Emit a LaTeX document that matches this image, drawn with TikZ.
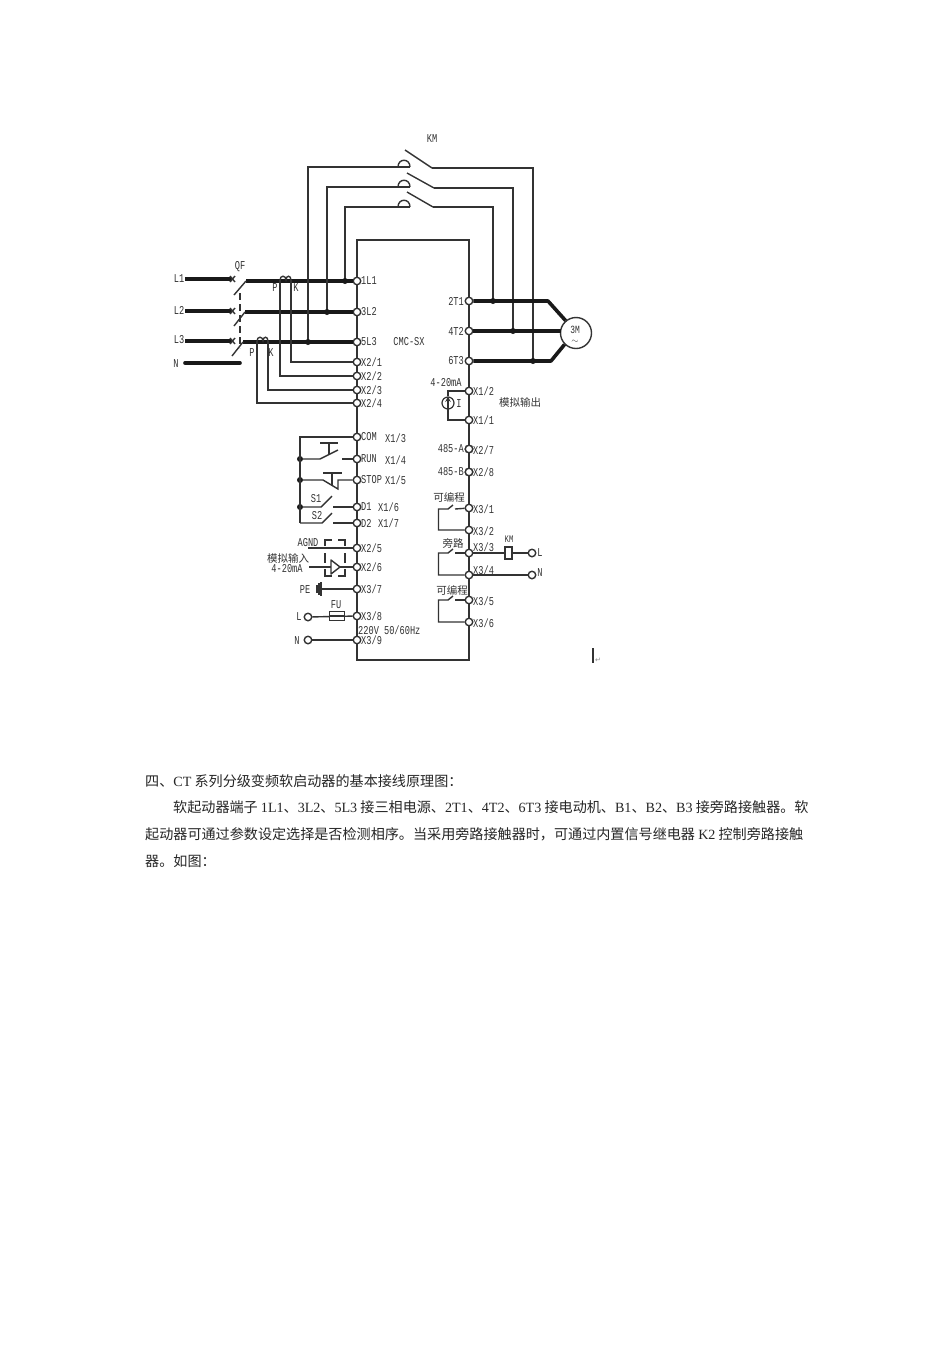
\documentclass[tikz,border=0pt]{standalone}
\usepackage{fontspec}
\setmainfont{Liberation Serif}
\newfontfamily\cjk{Noto Sans CJK SC}
\newfontfamily\djv{DejaVu Sans}
\newfontfamily\lbfont[FakeStretch=0.72]{Liberation Mono}
\newcommand\lat[1]{{\rmfamily #1}}
\definecolor{ink}{HTML}{333333}
\tikzset{
  wire/.style={draw=ink,line width=1.4pt},
  heavy/.style={draw=black!90,line width=3.6pt},
  term/.style={circle,draw=ink,fill=white,line width=1.4pt,minimum size=7.5pt,inner sep=0pt},
  lb/.style={inner sep=0pt,text=ink,font=\lbfont\fontsize{12}{12}\selectfont},
  cn/.style={inner sep=0pt,text=ink,font=\cjk\fontsize{10.5}{11}\selectfont},
  body/.style={inner sep=0pt,anchor=west,text=black!85,font=\cjk\fontsize{14.1}{15}\selectfont},
  dot/.style={circle,fill=black!90,minimum size=6pt,inner sep=0pt},
}
\begin{document}
\begin{tikzpicture}[x=1pt,y=-1pt]
\useasboundingbox[fill=white] (0,0) rectangle (950,1345);
% body of the starter
\node[wire,rectangle,minimum width=112pt,minimum height=420pt,inner sep=0pt] (box) at (413,450) {};
\node[lb] (cmc) at (409,342) {CMC-SX};
% left terminals
\foreach \n/\y/\t in {a1L1/281/1L1,a3L2/312/3L2,a5L3/342/5L3,aX21/362/X2\slash 1,aX22/376/X2\slash 2,aX23/390/X2\slash 3,aX24/403/X2\slash 4,aCOM/437/COM,aRUN/459/RUN,aSTOP/480/STOP,aD1/507/D1,aD2/523/D2,aX25/548/X2\slash 5,aX26/567/X2\slash 6,aX37/589/X3\slash 7,aX38/616/X3\slash 8,aX39/640/X3\slash 9}{
  \node[term] (\n) at (357,\y) {};
  \node[lb,anchor=west] (l\n) at (361,\y) {\t};
}
\node[lb,anchor=west] (x13) at (385,438) {X1/3};
\node[lb,anchor=west] (x14) at (385,460) {X1/4};
\node[lb,anchor=west] (x15) at (385,480) {X1/5};
\node[lb,anchor=west] (x16) at (378,507) {X1/6};
\node[lb,anchor=west] (x17) at (378,523) {X1/7};
\node[lb,anchor=west] (volt) at (358,630) {220V 50/60Hz};
% right terminals, labels to the left
\foreach \n/\y/\t in {b2T1/301/2T1,b4T2/331/4T2,b6T3/361/6T3,bA/449/485-A,bB/472/485-B}{
  \node[term] (\n) at (469,\y) {};
  \node[lb,anchor=east] (l\n) at (464,\y) {\t};
}
% right terminals, labels to the right
\foreach \n/\y/\t/\ly in {bX12/391/X1\slash 2/391,bX11/420/X1\slash 1/420,bX27/449/X2\slash 7/450,bX28/472/X2\slash 8/472,bX31/508/X3\slash 1/509,bX32/530/X3\slash 2/531,bX33/553/X3\slash 3/547,bX34/575/X3\slash 4/570,bX35/600/X3\slash 5/601,bX36/622/X3\slash 6/623}{
  \node[term] (\n) at (469,\y) {};
  \node[lb,anchor=west] (l\n) at (473,\ly) {\t};
}
% mains
\node[lb] (L1) at (179,279) {L1};
\node[lb] (L2) at (179,310) {L2};
\node[lb] (L3) at (179,340) {L3};
\node[lb] (N) at (176,364) {N};
\node[lb] (QF) at (240,267) {QF};
\coordinate (i1) at (185,279); \coordinate (i1e) at (232,279);
\coordinate (i2) at (185,311); \coordinate (i2e) at (232,311);
\coordinate (i3) at (185,341); \coordinate (i3e) at (232,341);
\coordinate (n1) at (185,363); \coordinate (n2) at (240,363);
\draw[heavy] (i1) -- (i1e); \draw[heavy] (i2) -- (i2e); \draw[heavy] (i3) -- (i3e); \draw[heavy,line cap=round] (n1) -- (n2);
\foreach \p in {279,311,341}{ \draw[wire] (230,\p-3) -- (235,\p+3) (230,\p+3) -- (235,\p-3); }
\coordinate (o1) at (246,281); \coordinate (o2) at (245,312); \coordinate (o3) at (243,342);
\draw[heavy] (o1) -- (a1L1); \draw[heavy] (o2) -- (a3L2); \draw[heavy] (o3) -- (a5L3);
\coordinate (q1) at (234,295); \coordinate (q2) at (234,326); \coordinate (q3) at (232,356);
\draw[wire] (o1) -- (q1); \draw[wire] (o2) -- (q2); \draw[wire] (o3) -- (q3);
\coordinate (qa) at (240,293); \coordinate (qb) at (240,348);
\draw[wire,dash pattern=on 7pt off 4pt] (qa) -- (qb);
% current transformers
\coordinate (c1a) at (280,280); \coordinate (c1m) at (286,280); \coordinate (c1b) at (291,280);
\coordinate (c3a) at (257,341); \coordinate (c3m) at (263,341); \coordinate (c3b) at (268,341);
\draw[wire] (c1a) .. controls +(0,-5) and +(0,-5) .. (c1m) .. controls +(0,-5) and +(0,-5) .. (c1b);
\draw[wire] (c3a) .. controls +(0,-5) and +(0,-5) .. (c3m) .. controls +(0,-5) and +(0,-5) .. (c3b);
\draw[wire] (c1a) |- (aX22); \draw[wire] (c1b) |- (aX21);
\draw[wire] (c3a) |- (aX24); \draw[wire] (c3b) |- (aX23);
\node[lb] (P1) at (275,288) {P}; \node[lb] (K1) at (296,288) {K};
\node[lb] (P3) at (252,353) {P}; \node[lb] (K3) at (271,353) {K};
% bypass contactor
\node[lb] (KM) at (432,139) {KM};
\coordinate (j1) at (345,281); \coordinate (j2) at (327,312); \coordinate (j3) at (308,342);
\coordinate (d1l) at (398,207); \coordinate (d1r) at (410,207);
\coordinate (d2l) at (398,187); \coordinate (d2r) at (410,187);
\coordinate (d3l) at (398,167); \coordinate (d3r) at (410,167);
\draw[wire] (j1) |- (d1r); \draw[wire] (j2) |- (d2r); \draw[wire] (j3) |- (d3r);
\draw[wire] (d1l) .. controls +(0,-9) and +(0,-9) .. (d1r);
\draw[wire] (d2l) .. controls +(0,-9) and +(0,-9) .. (d2r);
\draw[wire] (d3l) .. controls +(0,-9) and +(0,-9) .. (d3r);
\coordinate (k1) at (433,207); \coordinate (k2) at (434,188); \coordinate (k3) at (432,168);
\draw[wire] (k1) -- (407,192); \draw[wire] (k2) -- (407,173); \draw[wire] (k3) -- (405,150);
\coordinate (m1) at (493,301); \coordinate (m2) at (513,331); \coordinate (m3) at (533,361);
\draw[wire] (k1) -| (m1); \draw[wire] (k2) -| (m2); \draw[wire] (k3) -| (m3);
% motor
\node[circle,draw=ink,line width=1.4pt,fill=white,minimum size=31pt,inner sep=0pt] (motor) at (576,333) {};
\node[inner sep=0pt,text=ink,font=\lbfont\fontsize{11}{8}\selectfont] (mt) at (575,330) {3M};
\node[inner sep=0pt,text=ink,font=\rmfamily\fontsize{9}{8}\selectfont] (mw) at (575,342) {$\sim$};
\coordinate (b1) at (548,301); \coordinate (b3) at (551,361); \coordinate (b2) at (561,331);
\draw[heavy,line join=round] (b2T1) -- (b1) -- (motor.130);
\draw[heavy] (b4T2) -- (b2);
\draw[heavy,line join=round] (b6T3) -- (b3) -- (motor.225);
\node[dot] (dj1) at (j1) {}; \node[dot] (dj2) at (j2) {}; \node[dot] (dj3) at (j3) {};
\node[dot] (dm1) at (m1) {}; \node[dot] (dm2) at (m2) {}; \node[dot] (dm3) at (m3) {};
% analog output
\node[lb] (ma) at (446,383) {4-20mA};
\node[cn] (aout) at (520,402) {模拟输出};
\node[circle,draw=ink,line width=1.2pt,minimum size=12pt,inner sep=0pt] (src) at (448,403) {};
\node[lb] (srcI) at (459,404) {I};
\draw[wire] (src) |- (bX12); \draw[wire] (src) |- (bX11);
\draw[wire,-stealth] (src.south) -- (src.north);
% control inputs on the left
\coordinate (railT) at (300,437); \coordinate (railB) at (300,523);
\node[dot] (rRUN) at (300,459) {}; \node[dot] (rSTOP) at (300,480) {}; \node[dot] (rD1) at (300,507) {};
\draw[wire] (aCOM) -- (railT) -- (railB);
% RUN
\coordinate (runA) at (320,459); \coordinate (runB) at (342,459);
\draw[wire] (rRUN) -- (runA) -- (338,450); \draw[wire] (runB) -- (aRUN);
\draw[wire] (320,443) -- (338,443) (329,443) -- (329,455);
% STOP
\coordinate (stA) at (323,480); \coordinate (stB) at (338,480);
\draw[wire] (rSTOP) -- (stA) -- (338,489) -- (stB) -- (aSTOP);
\draw[wire] (323,473) -- (342,473) (332,473) -- (332,485);
% S1, S2
\coordinate (s1A) at (321,507); \coordinate (s1B) at (333,507);
\coordinate (s2A) at (322,523); \coordinate (s2B) at (333,523);
\draw[wire] (rD1) -- (s1A) -- (332,496); \draw[wire] (s1B) -- (aD1);
\draw[wire] (railB) -- (s2A) -- (332,513); \draw[wire] (s2B) -- (aD2);
\node[lb] (S1) at (316,499) {S1}; \node[lb] (S2) at (317,516) {S2};
% analog input
\node[lb] (AGND) at (308,543) {AGND};
\coordinate (ag) at (308,548); \draw[wire] (ag) -- (aX25);
\node[cn] (ain) at (288,558) {模拟输入};
\node[lb] (ainm) at (287,569) {4-20mA};
\coordinate (ai) at (309,567); \coordinate (tl) at (331,567); \coordinate (tr) at (340,567);
\draw[wire] (ai) -- (tl); \draw[wire] (tr) -- (aX26);
\draw[wire,line join=round] (331,560) -- (331,574) -- (340,567) -- cycle;
\draw[wire] (325,546) -- (325,540) -- (332,540) (338,540) -- (345,540) -- (345,546);
\draw[wire] (325,553) -- (325,563) (325,569) -- (325,576) -- (332,576) (338,576) -- (345,576) -- (345,569) (345,563) -- (345,553);
% PE
\node[lb] (PE) at (305,590) {PE};
\coordinate (pg) at (321,589); \draw[wire] (pg) -- (aX37);
\draw[wire] (317,585) -- (317,593) (319,583) -- (319,595);
\draw[draw=ink,line width=1.6pt] (321,582) -- (321,596);
% L, N and fuse
\node[lb] (supL) at (299,617) {L};
\node[term] (tL) at (308,617) {};
\node[lb] (supN) at (297,641) {N};
\node[term] (tN) at (308,640) {};
\node[lb] (FU) at (336,605) {FU};
\draw[wire] (tL) -- (aX38); \draw[wire] (tN) -- (aX39);
\node[wire,rectangle,fill=white,minimum width=15pt,minimum height=9pt,inner sep=0pt] (fuse) at (337,616) {};
\draw[wire] (fuse.west) -- (fuse.east);
% relay outputs
\node[cn] (pg1) at (449,497) {可编程};
\node[cn] (byp) at (453,543) {旁路};
\node[cn] (pg2) at (452,590) {可编程};
\foreach \top/\bot/\nt/\nb in {509/530/bX31/bX32,553/575/bX33/bX34,600/622/bX35/bX36}{
  \draw[wire] (\nb) -| (438.5,\top) -- (448,\top) -- (453,\top-4);
  \draw[wire] (455,\top) -- (\nt);
}
% KM coil
\node[lb,font=\lbfont\fontsize{10}{10}\selectfont] (KMc) at (509,539) {KM};
\node[wire,rectangle,fill=white,minimum width=7pt,minimum height=12pt,inner sep=0pt] (coil) at (508.5,553) {};
\node[term] (oL) at (532,553) {};
\node[term] (oN) at (532,575) {};
\node[lb] (oLt) at (540,553) {L};
\node[lb] (oNt) at (540,573) {N};
\draw[wire] (bX33) -- (coil); \draw[wire] (coil) -- (oL); \draw[wire] (bX34) -- (oN);
% text cursor mark
\coordinate (cA) at (593,648); \coordinate (cB) at (593,663);
\draw[draw=ink,line width=1.8pt] (cA) -- (cB);
\node[inner sep=0pt,text=black!45,font=\djv\fontsize{7}{7}\selectfont] (ret) at (598,660) {↵};
% paragraph
\node[body] (p1) at (145,781) {四、\lat{CT} 系列分级变频软启动器的基本接线原理图：};
\node[body] (p2) at (173,807) {软起动器端子 \lat{1L1}、\lat{3L2}、\lat{5L3} 接三相电源、\lat{2T1}、\lat{4T2}、\lat{6T3} 接电动机、\lat{B1}、\lat{B2}、\lat{B3} 接旁路接触器。软};
\node[body] (p3) at (145,834) {起动器可通过参数设定选择是否检测相序。当采用旁路接触器时，可通过内置信号继电器 \lat{K2} 控制旁路接触};
\node[body] (p4) at (145,861) {器。如图：};
\end{tikzpicture}
\end{document}
